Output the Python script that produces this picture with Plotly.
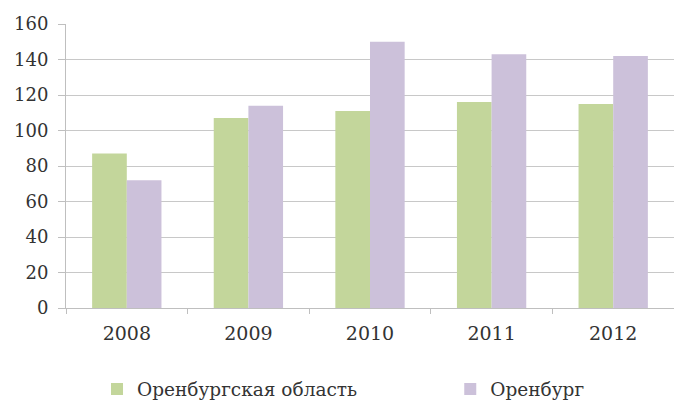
import plotly.graph_objects as go

years = ["2008", "2009", "2010", "2011", "2012"]
region = [87, 107, 111, 116, 115]
city = [72, 114, 150, 143, 142]
series_names = ["Оренбургская область", "Оренбург"]
y_ticks = [0, 20, 40, 60, 80, 100, 120, 140, 160]

font_family = "DejaVu Serif"
text_color = "#333333"

fig = go.Figure()
fig.add_trace(go.Bar(x=years, y=region, name=series_names[0], legend="legend",
                     marker=dict(color="#c3d69b", line=dict(width=0))))
fig.add_trace(go.Bar(x=years, y=city, name=series_names[1], legend="legend2",
                     marker=dict(color="#ccc1da", line=dict(width=0))))

legend_common = dict(orientation="h", y=-0.287, yanchor="middle",
                     font=dict(family=font_family, size=18.5, color=text_color),
                     itemwidth=30, bgcolor="rgba(0,0,0,0)")

fig.update_layout(
    width=674, height=401,
    margin=dict(l=66, r=0, t=24, b=93, autoexpand=False),
    paper_bgcolor="white", plot_bgcolor="white",
    barmode="group", bargap=0.43, bargroupgap=0,
    font=dict(family=font_family, size=18, color=text_color),
    showlegend=True,
    legend=dict(x=0.051, xanchor="left", **legend_common),
    legend2=dict(x=0.632, xanchor="left", **legend_common),
)
fig.update_xaxes(showgrid=False, showline=True, linecolor="#bfbfbf", linewidth=1,
                 ticks="outside", ticklen=5, tickcolor="#bfbfbf",
                 tickson="boundaries", ticklabelstandoff=8,
                 tickfont=dict(size=19))
fig.update_yaxes(range=[0, 160], tickvals=y_ticks, showgrid=True, gridcolor="#c8c8c8",
                 gridwidth=1, showline=True, linecolor="#bfbfbf", linewidth=1,
                 ticks="outside", ticklen=7, tickcolor="#bfbfbf", zeroline=False,
                 ticklabelstandoff=6, tickfont=dict(size=18))

fig.write_html("out.html")
